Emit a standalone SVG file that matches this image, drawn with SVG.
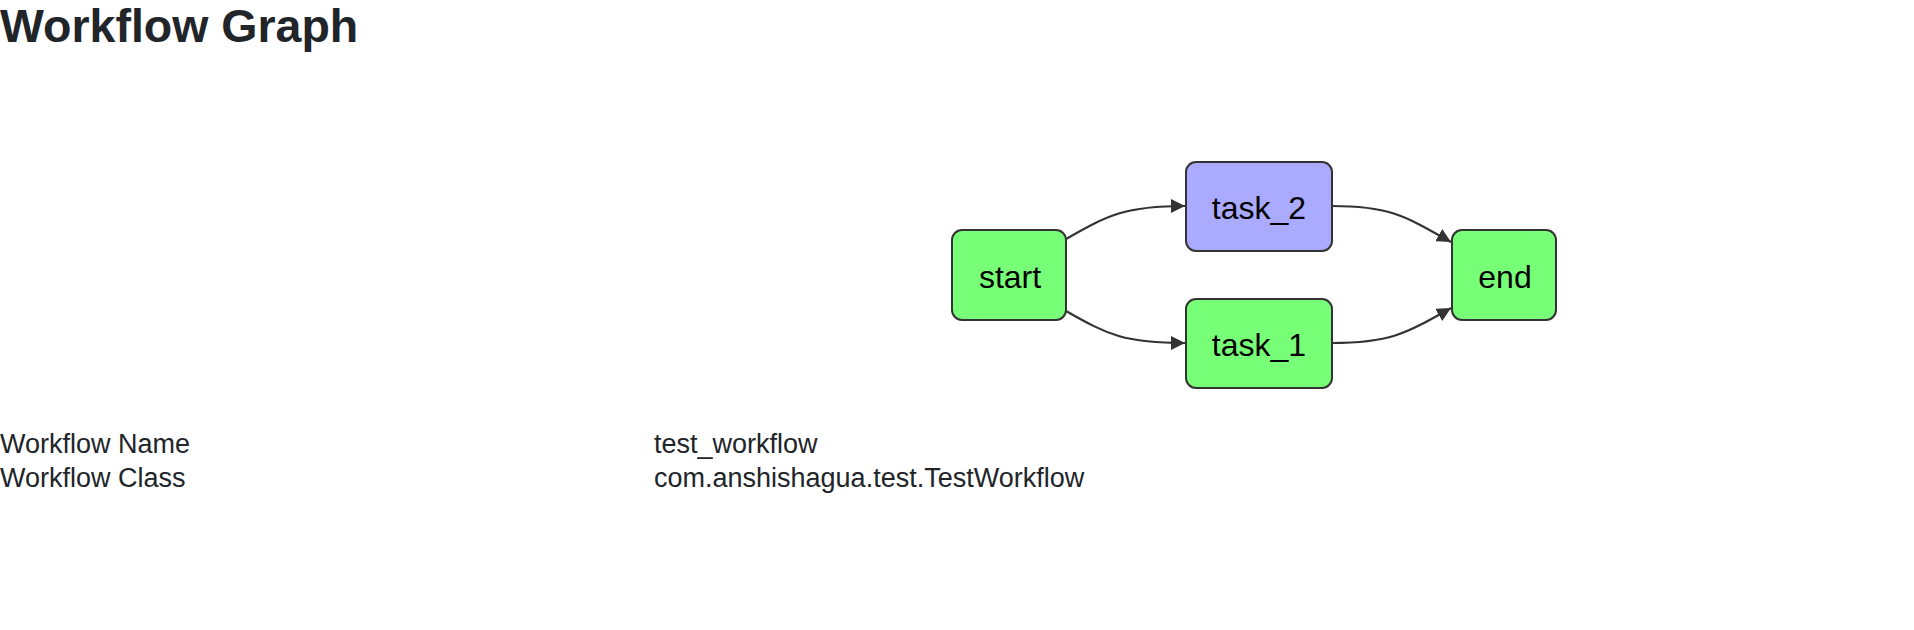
<svg xmlns="http://www.w3.org/2000/svg" width="1914" height="630" viewBox="0 0 1914 630">
<style>
.bg{fill:#ffffff}
.title{font-family:"Liberation Sans",Arial,sans-serif;font-weight:bold;font-size:46.5px;fill:#212529}
.info{font-family:"Liberation Sans",Arial,sans-serif;font-size:27px;fill:#212529}
.node rect{stroke:#333333;stroke-width:2}
.green{fill:#77ff77}
.blue{fill:#aaaaff}
.label{font-family:"Liberation Sans",Arial,sans-serif;font-size:32px;fill:#000000;text-anchor:middle}
.edge{fill:none;stroke:#333333;stroke-width:2.2;marker-end:url(#arrow)}
</style>
<defs>
<marker id="arrow" viewBox="0 0 14 14" refX="14" refY="7" markerWidth="14" markerHeight="14" markerUnits="userSpaceOnUse" orient="auto">
<path d="M0,0 L14,7 L0,14 z" fill="#333333"/>
</marker>
</defs>
<rect class="bg" x="0" y="0" width="1914" height="630"/>
<text class="title" x="0" y="42">Workflow Graph</text>

<g id="connectors">
<path class="edge" d="M1066,239 C1108,215 1125,206 1185,206"/>
<path class="edge" d="M1066,311 C1108,335 1125,343 1185,343"/>
<path class="edge" d="M1332,206 C1390,206 1405,216 1451,242"/>
<path class="edge" d="M1332,343 C1390,343 1405,334 1451,308"/>
</g>

<g id="node-start" class="node">
<rect class="green" x="952" y="230" width="114" height="90" rx="10" ry="10"/>
<text class="label" x="1010" y="288">start</text>
</g>
<g id="node-task_2" class="node">
<rect class="blue" x="1186" y="162" width="146" height="89" rx="10" ry="10"/>
<text class="label" x="1259" y="219">task_2</text>
</g>
<g id="node-task_1" class="node">
<rect class="green" x="1186" y="299" width="146" height="89" rx="10" ry="10"/>
<text class="label" x="1259" y="356">task_1</text>
</g>
<g id="node-end" class="node">
<rect class="green" x="1452" y="230" width="104" height="90" rx="10" ry="10"/>
<text class="label" x="1505" y="288">end</text>
</g>

<g id="info">
<text class="info" x="0" y="453">Workflow Name</text>
<text class="info" x="654" y="453">test_workflow</text>
<text class="info" x="0" y="487">Workflow Class</text>
<text class="info" x="654" y="487">com.anshishagua.test.TestWorkflow</text>
</g>
</svg>
